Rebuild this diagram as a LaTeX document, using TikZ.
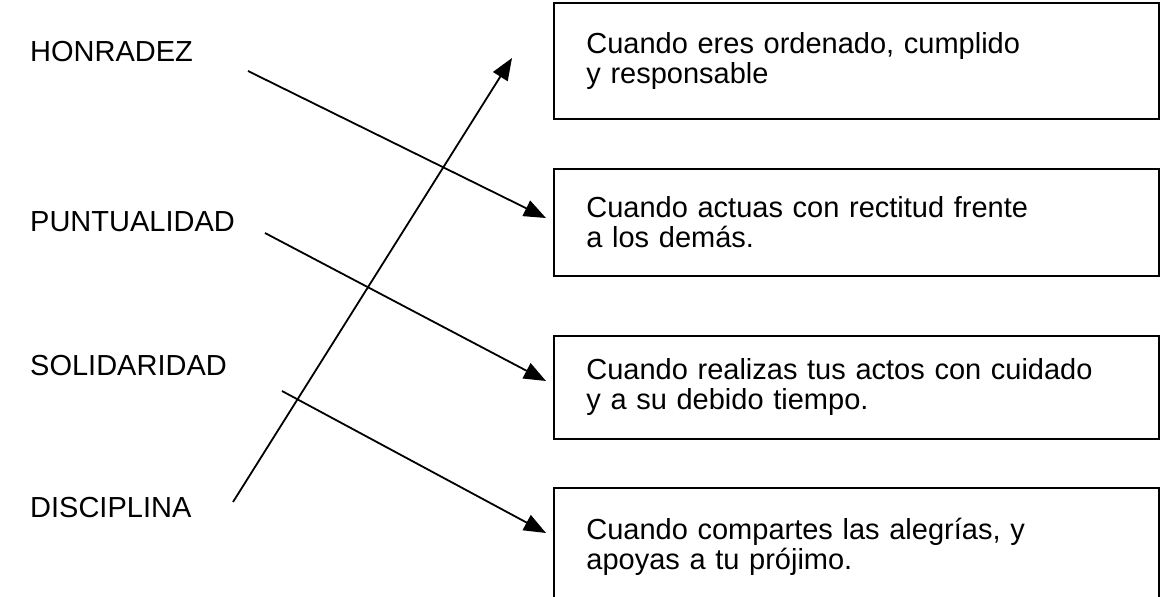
\documentclass[tikz,border=0pt]{standalone}
\usepackage{fontspec}
\setmainfont{Liberation Sans}
\usetikzlibrary{arrows.meta}
\tikzset{every node/.style={inner sep=0pt,font=\fontsize{29pt}{30pt}\selectfont}}
\tikzset{v/.style={anchor=west}}
\tikzset{caja/.style={draw,line width=1.8pt,minimum width=605pt,text width=540pt,align=left,anchor=north west}}
\tikzset{a/.style={line width=1.8pt,-{Triangle[length=22pt,width=17pt]}}}

\begin{document}
\begin{tikzpicture}[x=1pt,y=-1pt]
      \useasboundingbox (0,0) rectangle (1160,597);
      \node[v] (H) at (30,52) {HONRADEZ};
      \node[v] (P) at (30,222) {PUNTUALIDAD};
      \node[v] (S) at (30,366) {SOLIDARIDAD};
      \node[v] (D) at (30,508) {DISCIPLINA};
      \node[caja,minimum height=116pt] (C1) at (553,2) {Cuando eres ordenado, cumplido\\y responsable};
      \node[caja,minimum height=107pt] (C2) at (553,168) {Cuando actuas con rectitud frente\\a los dem\'as.};
      \node[caja,minimum height=103pt] (C3) at (553,335) {Cuando realizas tus actos con cuidado\\y a su debido tiempo.};
      \node[caja,minimum height=118pt] (C4) at (553,487) {Cuando compartes las alegr\'ias, y\\apoyas a tu pr\'ojimo.};
      \coordinate (h1) at (248,71); \coordinate (h2) at (546,218);
      \coordinate (p1) at (265,233); \coordinate (p2) at (546,381);
      \coordinate (s1) at (282,391); \coordinate (s2) at (546,533);
      \coordinate (d1) at (233,502); \coordinate (d2) at (512,58);
      \draw[a] (h1) -- (h2);
      \draw[a] (p1) -- (p2);
      \draw[a] (s1) -- (s2);
      \draw[a] (d1) -- (d2);
    \end{tikzpicture}
\end{document}
